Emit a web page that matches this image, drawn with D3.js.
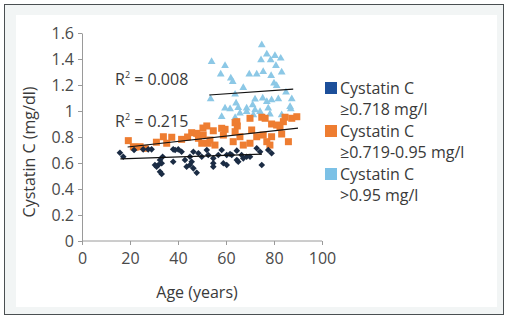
<!doctype html>
<html>
<head>
<script src="https://cdn.jsdelivr.net/npm/d3@7"></script>
<style>
  body { margin: 0; background: #fff; }
  svg { font-family: "Open Sans", "Noto Sans", sans-serif; }
  .axis path, .axis line { stroke: #9a9a9a; }
  .axis text { font-size: 16px; fill: #4a4a4a; font-family: "Open Sans", sans-serif; }
</style>
</head>
<body>
<svg width="508" height="319"></svg>
<script>
// ages and cystatin values
var navyAge = [15.8,17.2,21.7,25.5,27.6,29.0,32.5,33.2,31.8,31.1,32.5,33.2,33.6,38.0,38.0,40.1,41.5,45.0,45.7,45.0,46.4,47.8,46.4,49.9,48.5,52.0,52.6,54.7,54.7,54.7,56.8,58.2,58.9,60.3,60.3,62.4,64.5,64.5,66.5,67.2,65.1,68.6,70.0,72.8,74.2,74.9,77.6,79.0,42.9,38.8,43.6,30.4,61.7];
var navyVal = [0.679,0.648,0.700,0.705,0.705,0.705,0.623,0.598,0.585,0.572,0.533,0.515,0.648,0.610,0.705,0.705,0.687,0.648,0.610,0.585,0.559,0.525,0.687,0.648,0.675,0.700,0.662,0.636,0.598,0.572,0.662,0.700,0.598,0.585,0.662,0.662,0.695,0.623,0.662,0.636,0.610,0.648,0.648,0.713,0.687,0.585,0.700,0.675,0.623,0.700,0.572,0.585,0.669];

var orangeAge = [19.3,22.1,24.2,33.9,37.4,35.3,41.5,45.7,48.5,50.4,52.0,54.7,58.2,63.8,64.7,70.0,74.9,79.0,82.5,84.6,87.4,89.5,50.5,53.3,58.9,63.8,65.8,70.7,72.8,75.5,77.0,79.0,83.2,86.0,49.9,52.6,55.4,63.0,67.2,70.0,78.3,21.4,47.8,59.6,64.5,81.1,83.9,76.3,26.3,31.0,44.0];
var orangeVal = [0.772,0.721,0.725,0.802,0.798,0.752,0.782,0.833,0.790,0.869,0.885,0.848,0.867,0.910,0.885,0.944,0.952,0.900,0.875,0.952,0.944,0.956,0.815,0.777,0.815,0.841,0.802,0.854,0.802,0.815,0.764,0.802,0.823,0.764,0.752,0.752,0.738,0.764,0.738,0.752,0.738,0.725,0.828,0.859,0.918,0.892,0.918,0.944,0.713,0.760,0.800];

var lightAge = [74.9,77.0,80.4,82.8,74.6,78.6,80.8,54.0,59.6,57.8,69.7,72.8,78.8,83.2,62.0,62.8,80.0,81.1,67.2,63.8,85.0,53.6,75.3,72.1,79.0,81.8,87.4,77.0,59.6,61.7,65.1,68.6,71.1,72.1,74.2,77.6,87.0,58.2,65.8,71.4,78.3,83.2,64.2,63.8,86.7,75.5,68.6];
var lightVal = [1.508,1.436,1.425,1.405,1.392,1.392,1.348,1.379,1.348,1.282,1.282,1.282,1.272,1.298,1.252,1.225,1.213,1.195,1.179,1.128,1.144,1.092,1.098,1.090,1.085,1.092,1.092,1.072,1.021,1.015,1.025,1.021,1.046,1.008,0.995,1.021,1.015,0.956,0.982,0.969,0.975,0.969,1.059,0.948,1.033,1.302,0.995];

// trend line ends [age, value]
var navyTrend = [[16, 0.632], [75, 0.668]];
var orangeTrend = [[19, 0.723], [90, 0.869]];
var lightTrend = [[53, 1.123], [88, 1.169]];

var xTicks = [0, 20, 40, 60, 80, 100];
var yTicks = [0, 0.2, 0.4, 0.6, 0.8, 1, 1.2, 1.4, 1.6];
var legendLines = [
  ["Cystatin C", "\u22650.718 mg/l"],
  ["Cystatin C", "\u22650.719-0.95 mg/l"],
  ["Cystatin C", ">0.95 mg/l"]
];
var legendColors = ["#1c4f9a", "#ee7d31", "#7cc1e6"];

var svg = d3.select("svg");

// frame
svg.append("rect").attr("x", 4.5).attr("y", 4.5).attr("width", 499).attr("height", 310)
   .attr("fill", "#f2f5f5").attr("stroke", "#4a4f52").attr("stroke-width", 1);
svg.append("rect").attr("x", 16).attr("y", 15).attr("width", 481).attr("height", 292)
   .attr("fill", "#fff");

var x = d3.scaleLinear().domain([0, 100]).range([82, 322]);
var y = d3.scaleLinear().domain([0, 1.6]).range([241, 33]);

svg.append("g").attr("class", "axis").attr("transform", "translate(0,241)")
   .call(d3.axisBottom(x).tickValues(xTicks).tickSize(4).tickPadding(8).tickSizeOuter(0))
   .select(".domain").attr("d", "M82,0H322");
svg.append("g").attr("class", "axis").attr("transform", "translate(82,0)")
   .call(d3.axisLeft(y).tickValues(yTicks).tickSize(4).tickPadding(4).tickSizeOuter(0)
         .tickFormat(function(d) { return d3.format("~g")(d); }));

// points
function zip(a, b) { return a.map(function(v, i) { return [v, b[i]]; }); }

svg.append("g").selectAll("path").data(zip(lightAge, lightVal)).enter().append("path")
   .attr("d", d3.symbol().type(d3.symbolTriangle).size(26))
   .attr("transform", function(d) { return "translate(" + x(d[0]) + "," + y(d[1]) + ")"; })
   .attr("fill", "#8cc8e6");

svg.append("g").selectAll("rect").data(zip(orangeAge, orangeVal)).enter().append("rect")
   .attr("x", function(d) { return x(d[0]) - 3.5; })
   .attr("y", function(d) { return y(d[1]) - 3.5; })
   .attr("width", 7).attr("height", 7)
   .attr("fill", "#ee7d31");

svg.append("g").selectAll("path").data(zip(navyAge, navyVal)).enter().append("path")
   .attr("d", d3.symbol().type(d3.symbolDiamond2).size(28))
   .attr("transform", function(d) { return "translate(" + x(d[0]) + "," + y(d[1]) + ")"; })
   .attr("fill", "#1b2c44");

// trend lines
var line = d3.line().x(function(d) { return x(d[0]); }).y(function(d) { return y(d[1]); });
[navyTrend, orangeTrend, lightTrend].forEach(function(t) {
  svg.append("path").attr("d", line(t)).attr("stroke", "#111").attr("stroke-width", 1.2).attr("fill", "none");
});

// r squared labels
function rLabel(px, py, val) {
  var t = svg.append("text").attr("x", px).attr("y", py).attr("font-size", 16).attr("fill", "#3a3a3a");
  t.append("tspan").text("R");
  t.append("tspan").attr("font-size", 9).attr("dy", -7).text("2");
  t.append("tspan").attr("dy", 7).text(" = " + val);
}
rLabel(115, 85, "0.008");
rLabel(115, 127, "0.215");

// axis titles
svg.append("text").attr("x", 197).attr("y", 298).attr("text-anchor", "middle")
   .attr("font-size", 16).attr("fill", "#3a3a3a").text("Age (years)");
svg.append("text").attr("transform", "translate(35,152) rotate(-90)").attr("text-anchor", "middle")
   .attr("font-size", 16).attr("fill", "#3a3a3a").text("Cystatin C (mg/dl)");

// legend
var leg = svg.append("g");
legendLines.forEach(function(l, i) {
  var top = 82 + i * 43;
  leg.append("rect").attr("x", 325).attr("y", top).attr("width", 12).attr("height", 12).attr("fill", legendColors[i]);
  leg.append("text").attr("x", 340).attr("y", top + 12).attr("font-size", 16).attr("fill", "#3a3a3a").text(l[0]);
  leg.append("text").attr("x", 340).attr("y", top + 33).attr("font-size", 16).attr("fill", "#3a3a3a").text(l[1]);
});
</script>
</body>
</html>
